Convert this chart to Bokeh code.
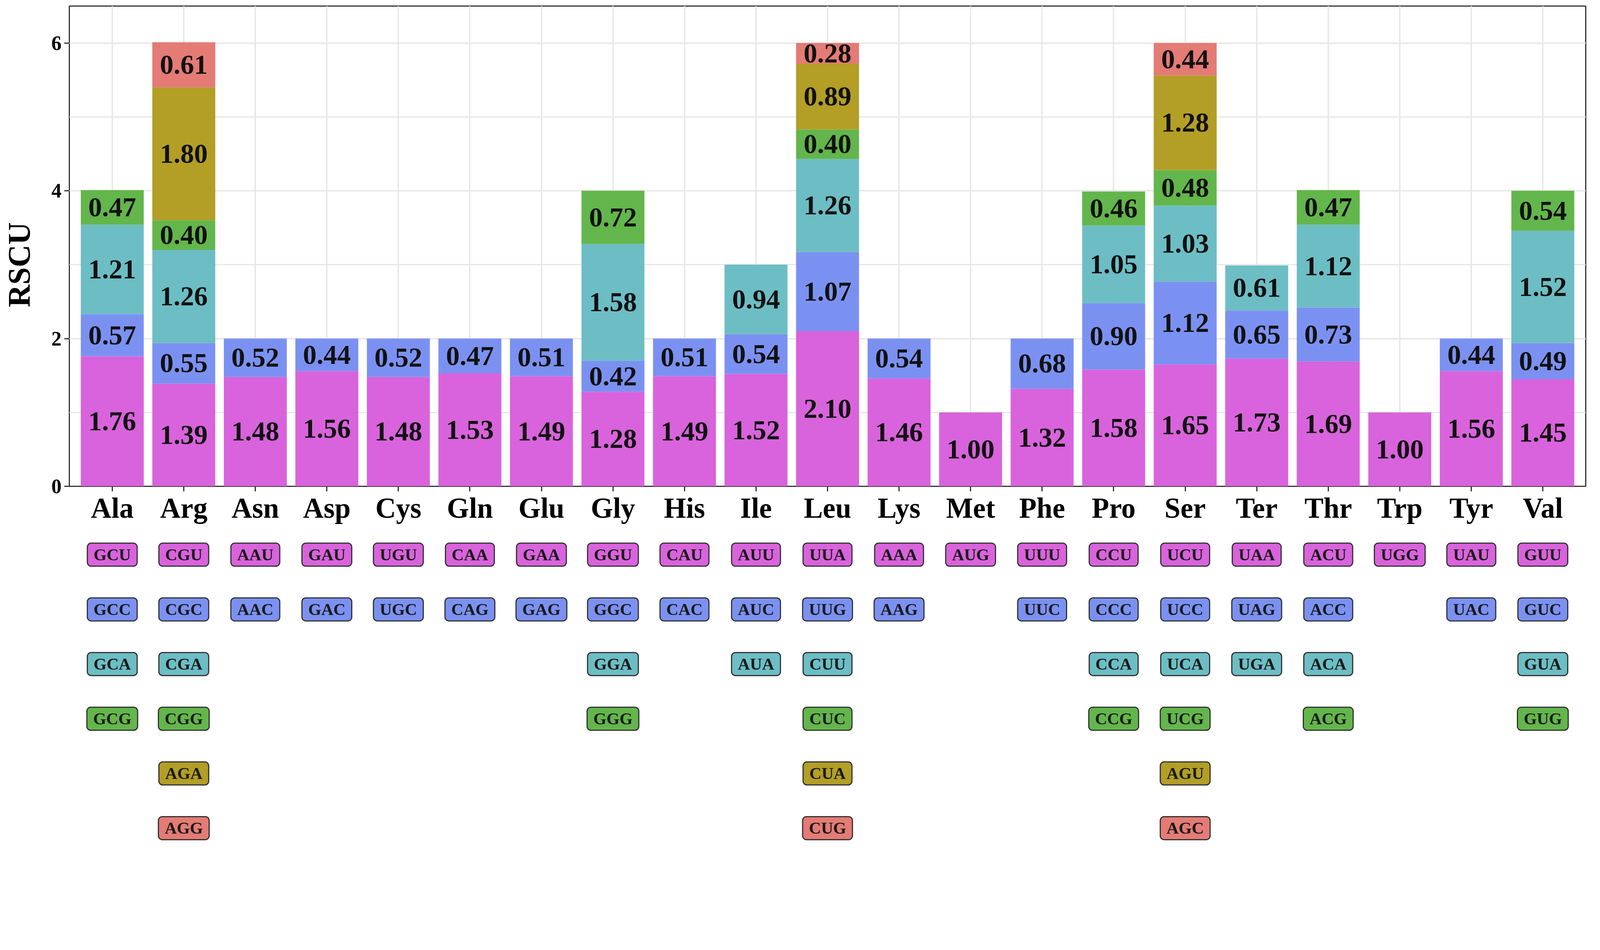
import math
from bokeh.plotting import figure
from bokeh.models import Range1d, FixedTicker, ColumnDataSource
from bokeh.layouts import column, row
from bokeh.embed import file_html
from bokeh.resources import INLINE
from bokeh.core.properties import value

amino_acids = ["Ala", "Arg", "Asn", "Asp", "Cys", "Gln", "Glu", "Gly", "His", "Ile", "Leu",
               "Lys", "Met", "Phe", "Pro", "Ser", "Ter", "Thr", "Trp", "Tyr", "Val"]

codons = [
    ["GCU", "GCC", "GCA", "GCG"],
    ["CGU", "CGC", "CGA", "CGG", "AGA", "AGG"],
    ["AAU", "AAC"],
    ["GAU", "GAC"],
    ["UGU", "UGC"],
    ["CAA", "CAG"],
    ["GAA", "GAG"],
    ["GGU", "GGC", "GGA", "GGG"],
    ["CAU", "CAC"],
    ["AUU", "AUC", "AUA"],
    ["UUA", "UUG", "CUU", "CUC", "CUA", "CUG"],
    ["AAA", "AAG"],
    ["AUG"],
    ["UUU", "UUC"],
    ["CCU", "CCC", "CCA", "CCG"],
    ["UCU", "UCC", "UCA", "UCG", "AGU", "AGC"],
    ["UAA", "UAG", "UGA"],
    ["ACU", "ACC", "ACA", "ACG"],
    ["UGG"],
    ["UAU", "UAC"],
    ["GUU", "GUC", "GUA", "GUG"],
]

rscu = [
    [1.76, 0.57, 1.21, 0.47],
    [1.39, 0.55, 1.26, 0.40, 1.80, 0.61],
    [1.48, 0.52],
    [1.56, 0.44],
    [1.48, 0.52],
    [1.53, 0.47],
    [1.49, 0.51],
    [1.28, 0.42, 1.58, 0.72],
    [1.49, 0.51],
    [1.52, 0.54, 0.94],
    [2.10, 1.07, 1.26, 0.40, 0.89, 0.28],
    [1.46, 0.54],
    [1.00],
    [1.32, 0.68],
    [1.58, 0.90, 1.05, 0.46],
    [1.65, 1.12, 1.03, 0.48, 1.28, 0.44],
    [1.73, 0.65, 0.61],
    [1.69, 0.73, 1.12, 0.47],
    [1.00],
    [1.56, 0.44],
    [1.45, 0.49, 1.52, 0.54],
]

codon_colors = ["#D963DC", "#7B91F2", "#6CBEC4", "#63B64B", "#B39E26", "#E47B75"]

y_ticks = [0, 2, 4, 6]
y_minor = [1, 3, 5]
y_title = "RSCU"

FONT = "Liberation Serif"

# ---- build stacked segments
seg = dict(x=[], bottom=[], top=[], mid=[], color=[], label=[])
cod = dict(x=[], row=[], codon=[], color=[])
for i, vals in enumerate(rscu):
    cum = 0.0
    for j, v in enumerate(vals):
        seg["x"].append(i)
        seg["bottom"].append(cum)
        seg["top"].append(cum + v)
        seg["mid"].append(cum + v / 2.0)
        seg["color"].append(codon_colors[j])
        seg["label"].append(f"{v:.2f}")
        cum += v
    for j, c in enumerate(codons[i]):
        cod["x"].append(i)
        cod["row"].append(j)
        cod["codon"].append(c)
        cod["color"].append(codon_colors[j])

src = ColumnDataSource(seg)
csrc = ColumnDataSource(cod)

LW = 100         # width of the y-title strip
W = 4094
H1 = 1355
TOP = 15
BOT = 110

p = figure(width=W - LW, height=H1, x_range=Range1d(-0.6, 20.6), y_range=Range1d(0, 6.5),
           output_backend="svg", toolbar_location=None,
           min_border_left=177 - LW, min_border_right=35, min_border_top=TOP,
           min_border_bottom=BOT)
p.background_fill_color = "white"
p.border_fill_color = "white"
p.outline_line_color = "#333333"
p.outline_line_width = 3

p.vbar(x="x", bottom="bottom", top="top", width=0.88, fill_color="color",
       line_color=None, source=src)
p.text(x="x", y="mid", text="label", source=src, text_font=value(FONT),
       text_font_style="bold", text_font_size="70px", text_align="center",
       text_baseline="middle", text_color="#111111")

xt = FixedTicker(ticks=list(range(len(amino_acids))))
yt = FixedTicker(ticks=y_ticks, minor_ticks=y_minor)
p.xaxis.ticker = xt
p.xgrid.ticker = xt
p.yaxis.ticker = yt
p.ygrid.ticker = yt
p.xaxis.major_label_overrides = {i: a for i, a in enumerate(amino_acids)}

for g in (p.xgrid, p.ygrid):
    g.grid_line_color = "#E6E6E6"
    g.grid_line_width = 3.5
p.ygrid.minor_grid_line_color = "#E6E6E6"
p.ygrid.minor_grid_line_width = 3

p.axis.axis_line_color = None
p.axis.major_tick_out = 13
p.axis.major_tick_in = 0
p.axis.minor_tick_out = 0
p.axis.minor_tick_in = 0
p.axis.major_tick_line_color = "#333333"
p.axis.major_tick_line_width = 3
p.axis.major_label_text_font = FONT
p.axis.major_label_text_font_style = "bold"
p.axis.major_label_text_color = "black"
p.xaxis.major_label_text_font_size = "73px"
p.yaxis.major_label_text_font_size = "52px"
p.xaxis.major_label_standoff = 2
p.yaxis.major_label_standoff = 7

# ---- y title strip (shares the y scale of the bar panel)
lf = figure(width=LW, height=H1, x_range=Range1d(0, LW), y_range=p.y_range,
            output_backend="svg", toolbar_location=None,
            x_axis_location=None, y_axis_location=None,
            min_border_left=0, min_border_right=0, min_border_top=TOP, min_border_bottom=BOT)
lf.outline_line_color = None
lf.background_fill_color = "white"
lf.border_fill_color = "white"
lf.xgrid.visible = False
lf.ygrid.visible = False
lf.text(x=[48], y=[(y_ticks[1] + y_ticks[2]) / 2.0], text=[y_title],
        angle=math.pi / 2, text_font=value(FONT), text_font_style="bold",
        text_font_size="80px", text_align="center", text_baseline="middle",
        text_color="black")

# ---- codon panel
q = figure(width=W, height=827, x_range=p.x_range, y_range=Range1d(5.44, -0.465),
           output_backend="svg", toolbar_location=None,
           x_axis_location=None, y_axis_location=None,
           min_border_left=177, min_border_right=35, min_border_top=0, min_border_bottom=0)
q.outline_line_color = None
q.background_fill_color = "white"
q.border_fill_color = "white"
q.xgrid.visible = False
q.ygrid.visible = False

t = q.text(x="x", y="row", text="codon", source=csrc, text_font=value(FONT),
           text_font_style="bold", text_font_size="43px", text_align="center",
           text_baseline="middle", text_color="#1a1a1a",
           background_fill_color="color", border_line_color="#333333",
           border_line_width=3)
try:
    t.glyph.padding = (16, 6)
except Exception:
    pass
try:
    t.glyph.border_radius = 10
except Exception:
    pass

layout = column(row(lf, p, spacing=0), q, spacing=0)
open("out.html", "w").write(file_html(layout, INLINE))
